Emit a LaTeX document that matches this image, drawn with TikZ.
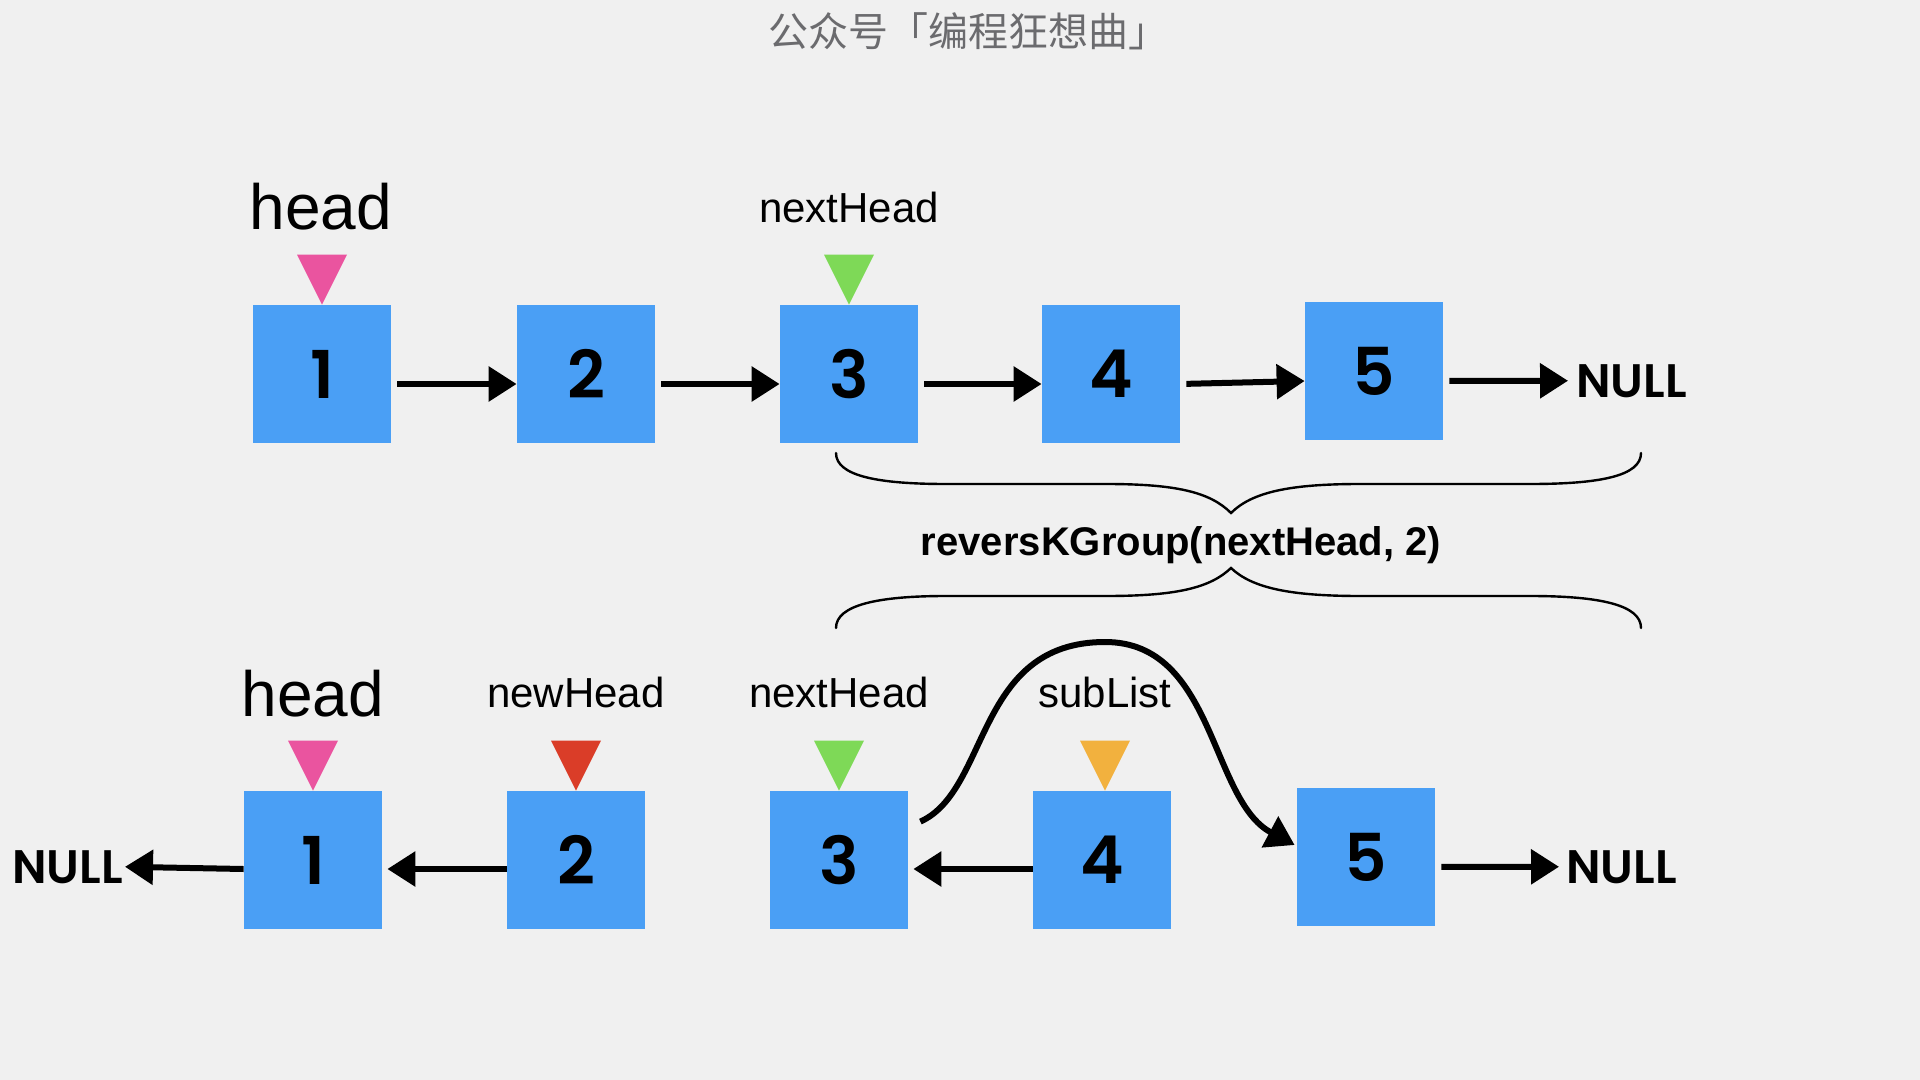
\documentclass[tikz,border=0pt]{standalone}
\usepackage{fontspec}
\setmainfont{Liberation Sans}
\newfontfamily\cjkfont{Noto Sans CJK SC}
\newfontfamily\numfont{Poppins SemiBold}
\usetikzlibrary{arrows.meta,calc}
\definecolor{bgc}{HTML}{F0F0F0}
\definecolor{boxc}{HTML}{4A9FF5}
\definecolor{pinkc}{HTML}{EA549F}
\definecolor{greenc}{HTML}{7ED957}
\definecolor{redc}{HTML}{DA3D28}
\definecolor{orangec}{HTML}{F2B13E}
\definecolor{titlec}{HTML}{6B6B6E}
\tikzset{
  listbox/.style={fill=boxc, minimum width=69pt, minimum height=69pt, inner sep=0pt,
    font=\numfont\fontsize{33}{33}\selectfont},
  nulltext/.style={inner sep=0pt, font=\numfont\fontsize{23.5}{23.5}\selectfont},
  biglab/.style={inner sep=0pt, anchor=base, font=\fontsize{32}{32}\selectfont},
  smalllab/.style={inner sep=0pt, anchor=base, font=\fontsize{21}{21}\selectfont},
  arr/.style={line width=3pt, -{Triangle[length=14pt,width=17pt]}},
  bracepath/.style={line width=1.2pt, line cap=round},
}
\begin{document}
\begin{tikzpicture}[x=0.5pt,y=-0.5pt]
\fill[bgc] (0,0) rectangle (1920,1080);
\useasboundingbox (0,0) rectangle (1920,1080);

% title
\node[font=\cjkfont\fontsize{20}{20}\selectfont, text=titlec, inner sep=0pt] (title) at (968,31) {公众号「编程狂想曲」};

% top row
\node[listbox] (a1) at (322,374) {1};
\node[listbox] (a2) at (586,374) {2};
\node[listbox] (a3) at (849,374) {3};
\node[listbox] (a4) at (1111,374) {4};
\node[listbox] (a5) at (1374,371) {5};
\node[nulltext, anchor=base west] (n1) at (1576,397) {NULL};

\draw[arr, shorten <=3pt] ([yshift=-5pt]a1.east) -- ([yshift=-5pt]a2.west);
\draw[arr, shorten <=3pt] ([yshift=-5pt]a2.east) -- ([yshift=-5pt]a3.west);
\draw[arr, shorten <=3pt] ([yshift=-5pt]a3.east) -- ([yshift=-5pt]a4.west);
\draw[arr, shorten <=3pt] ([yshift=-5pt]a4.east) -- ([yshift=-5pt]a5.west);
\draw[arr, shorten <=3pt, shorten >=4pt] ([yshift=-5pt]a5.east) -- (n1.west);

\node[biglab] (h1) at (321,230) {head};
\node[smalllab] (nh1) at (849,223) {nextHead};
\fill[pinkc] ($(a1.north)+(-25,-50)$) -- ($(a1.north)+(25,-50)$) -- (a1.north) -- cycle;
\fill[greenc] ($(a3.north)+(-25,-50)$) -- ($(a3.north)+(25,-50)$) -- (a3.north) -- cycle;

% braces
\draw[bracepath] (836,453) .. controls (836,476) and (878,484) .. (946,484) -- (1106,484)
  .. controls (1176,484) and (1210,492) .. (1231,513)
  .. controls (1252,492) and (1290,484) .. (1360,484) -- (1530,484)
  .. controls (1600,484) and (1641,476) .. (1641,453);
\node[inner sep=0pt, anchor=base, font=\bfseries\fontsize{20}{20}\selectfont] (call) at (1181,555) {reversKGroup(nextHead, 2)};
\draw[bracepath] (836,628) .. controls (836,605) and (878,596) .. (946,596) -- (1106,596)
  .. controls (1176,596) and (1210,588) .. (1231,568)
  .. controls (1252,588) and (1290,596) .. (1360,596) -- (1530,596)
  .. controls (1600,596) and (1641,605) .. (1641,628);

% bottom row
\node[listbox] (b1) at (313,860) {1};
\node[listbox] (b2) at (576,860) {2};
\node[listbox] (b3) at (839,860) {3};
\node[listbox] (b4) at (1102,860) {4};
\node[listbox] (b5) at (1366,857) {5};
\node[nulltext, anchor=base east] (n2) at (123,883) {NULL};
\node[nulltext, anchor=base west] (n3) at (1566,883) {NULL};

\draw[arr, shorten >=1pt] ([yshift=-4.5pt]b1.west) -- (n2.east);
\draw[arr, shorten >=2.5pt] ([yshift=-4.5pt]b2.west) -- ([yshift=-4.5pt]b1.east);
\draw[arr, shorten >=2.5pt] ([yshift=-4.5pt]b4.west) -- ([yshift=-4.5pt]b3.east);
\draw[arr, shorten <=3pt, shorten >=3.5pt] ([yshift=-5pt]b5.east) -- (n3.west);

\coordinate (cs) at ($(b3.north east)+(12,31)$);
\coordinate (ce) at ($(b5.west)+(-2,-12)$);
\draw[arr] (cs) .. controls (990,790) and (975,642) .. (1105,642)
  .. controls (1215,642) and (1210,800) .. (ce);

\node[biglab] (h2) at (313,716) {head};
\node[smalllab] (nwh) at (576,707) {newHead};
\node[smalllab] (nh2) at (839,707) {nextHead};
\node[smalllab] (sl) at (1105,707) {subList};
\fill[pinkc] ($(b1.north)+(-25,-50)$) -- ($(b1.north)+(25,-50)$) -- (b1.north) -- cycle;
\fill[redc] ($(b2.north)+(-25,-50)$) -- ($(b2.north)+(25,-50)$) -- (b2.north) -- cycle;
\fill[greenc] ($(b3.north)+(-25,-50)$) -- ($(b3.north)+(25,-50)$) -- (b3.north) -- cycle;
\fill[orangec] ($(b4.north)+(-22,-50)$) -- ($(b4.north)+(28,-50)$) -- ($(b4.north)+(3,0)$) -- cycle;
\end{tikzpicture}
\end{document}
